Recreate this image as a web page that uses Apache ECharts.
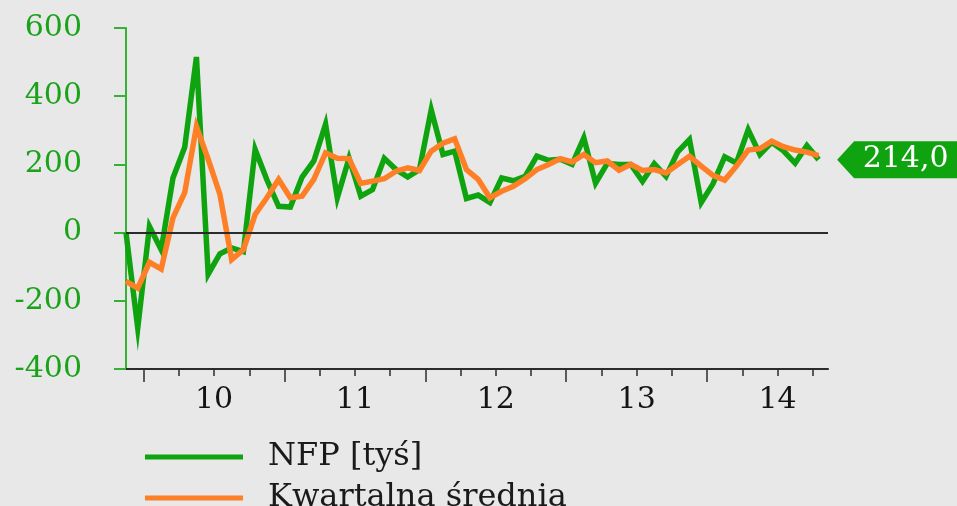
<!DOCTYPE html>
<html>
<head>
<meta charset="utf-8">
<script src="https://cdn.jsdelivr.net/npm/echarts@6/dist/echarts.min.js"></script>
<style>
  html, body { margin: 0; padding: 0; background: #e7e8e7; }
  #chart { width: 957px; height: 506px; }
</style>
</head>
<body>
<div id="chart"></div>
<script>
// miesiące: 2009-11 .. 2014-10
const startYear = 2009
const startMonth = 11
const monthCount = 60
const months = []
for (let i = 0; i < monthCount; i++) {
    const m = (startMonth - 1 + i) % 12 + 1
    const y = startYear + Math.floor((startMonth - 1 + i) / 12)
    months.push(y + '-' + String(m).padStart(2, '0'))
}

// NFP [tys.]
const nfp = [0, -280, 18, -50, 160, 250, 515, -122, -62, -45, -56, 244,
    155, 77, 75, 163, 210, 318, 102, 218, 107, 126, 218, 185,
    163, 185, 360, 229, 239, 100, 110, 88, 160, 152, 165, 224,
    212, 215, 200, 278, 145, 203, 200, 200, 150, 202, 165, 237,
    273, 88, 143, 222, 204, 302, 229, 265, 240, 204, 255, 214]

// średnia kwartalna
const avg3m = [-143, -163, -87, -107, 43, 117, 311, 215, 112, -79, -50, 53,
    102, 156, 102, 107, 156, 234, 218, 217, 144, 151, 158, 180,
    190, 182, 239, 262, 275, 185, 156, 102, 121, 136, 158, 185,
    200, 217, 207, 229, 205, 210, 183, 200, 182, 185, 175, 200,
    224, 195, 168, 154, 195, 242, 246, 268, 252, 242, 236, 226]

const yearLabels = ['10', '11', '12', '13', '14']

const green = '#0fa40f'
const orange = '#ff7f27'
const serif = 'DejaVu Serif'

// podziałki: granice kwartałów i lat, etykiety na środku roku
const quarterTicks = []
const yearTicks = []
const yearCenters = []
months.forEach((m, i) => {
    const mm = +m.slice(5)
    if (mm % 3 === 1) quarterTicks.push(i - 0.5)
    if (mm === 1) {
        yearTicks.push(i - 0.5)
        yearCenters.push(i + 5.5)
    }
})

const myChart = echarts.init(document.querySelector('#chart'))

const option = {
    backgroundColor: '#e7e8e7',
    animation: false,
    grid: {
        left: 126,
        right: 129,
        top: 28,
        bottom: 137,
        outerBoundsMode: 'none'
    },
    legend: {
        orient: 'vertical',
        left: 145,
        top: 441,
        width: 500,
        height: 120,
        padding: 0,
        icon: 'rect',
        itemWidth: 98,
        itemHeight: 5,
        itemGap: 9,
        selectedMode: false,
        textStyle: {
            fontFamily: serif,
            fontSize: 32,
            lineHeight: 28,
            color: '#1a1a1a',
            padding: [0, 0, 0, 20]
        },
        data: ['NFP [tyś]', 'Kwartalna średnia']
    },
    xAxis: [
        {
            type: 'value',
            min: 0,
            max: 59.8,
            position: 'bottom',
            axisLine: {
                show: true,
                onZero: false,
                lineStyle: { color: '#2b2b2b', width: 2 }
            },
            axisTick: {
                show: true,
                customValues: quarterTicks,
                length: 7,
                lineStyle: { color: '#2b2b2b', width: 1.5 }
            },
            axisLabel: {
                customValues: yearCenters,
                formatter: function (v) {
                    const idx = yearCenters.findIndex(c => Math.abs(c - v) < 0.01)
                    return idx >= 0 ? yearLabels[idx] : ''
                },
                fontFamily: serif,
                fontSize: 30,
                color: '#141414',
                margin: 16
            },
            splitLine: { show: false }
        },
        {
            type: 'value',
            min: 0,
            max: 59.8,
            position: 'bottom',
            axisLine: { show: false, onZero: false },
            axisTick: {
                show: true,
                customValues: yearTicks,
                length: 13,
                lineStyle: { color: '#2b2b2b', width: 1.5 }
            },
            axisLabel: { show: false },
            splitLine: { show: false }
        }
    ],
    yAxis: {
        type: 'value',
        min: -400,
        max: 600,
        interval: 200,
        axisLine: {
            show: true,
            lineStyle: { color: '#35b135', width: 2 }
        },
        axisTick: {
            show: true,
            length: 12,
            lineStyle: { color: '#35b135', width: 2 }
        },
        axisLabel: {
            fontFamily: serif,
            fontSize: 30,
            color: '#1aa31a',
            margin: 44
        },
        splitLine: { show: false }
    },
    series: [
        {
            name: 'NFP [tyś]',
            type: 'line',
            data: nfp.map((v, i) => [i, v]),
            symbol: 'none',
            z: 2,
            itemStyle: { color: green },
            lineStyle: { color: green, width: 5.5, join: 'miter' },
            markLine: {
                silent: true,
                symbol: ['none', 'none'],
                label: { show: false },
                lineStyle: { color: '#2b2b2b', width: 2, type: 'solid' },
                data: [{ yAxis: 0 }]
            },
            markPoint: {
                symbol: 'path://M0,18.5 L17,0 L125,0 L125,37 L17,37 Z',
                symbolSize: [125, 37],
                symbolKeepAspect: false,
                symbolOffset: [81, 0],
                itemStyle: { color: green },
                label: {
                    show: true,
                    position: 'inside',
                    offset: [6, 0],
                    color: '#fff',
                    fontFamily: serif,
                    fontSize: 30,
                    formatter: p => p.value.toFixed(1).replace('.', ',')
                },
                data: [{ coord: [monthCount - 1, nfp[monthCount - 1]], value: nfp[monthCount - 1] }]
            }
        },
        {
            name: 'Kwartalna średnia',
            type: 'line',
            data: avg3m.map((v, i) => [i, v]),
            symbol: 'none',
            z: 3,
            itemStyle: { color: orange },
            lineStyle: { color: orange, width: 5.5, join: 'miter' }
        }
    ]
}

myChart.setOption(option)
</script>
</body>
</html>
